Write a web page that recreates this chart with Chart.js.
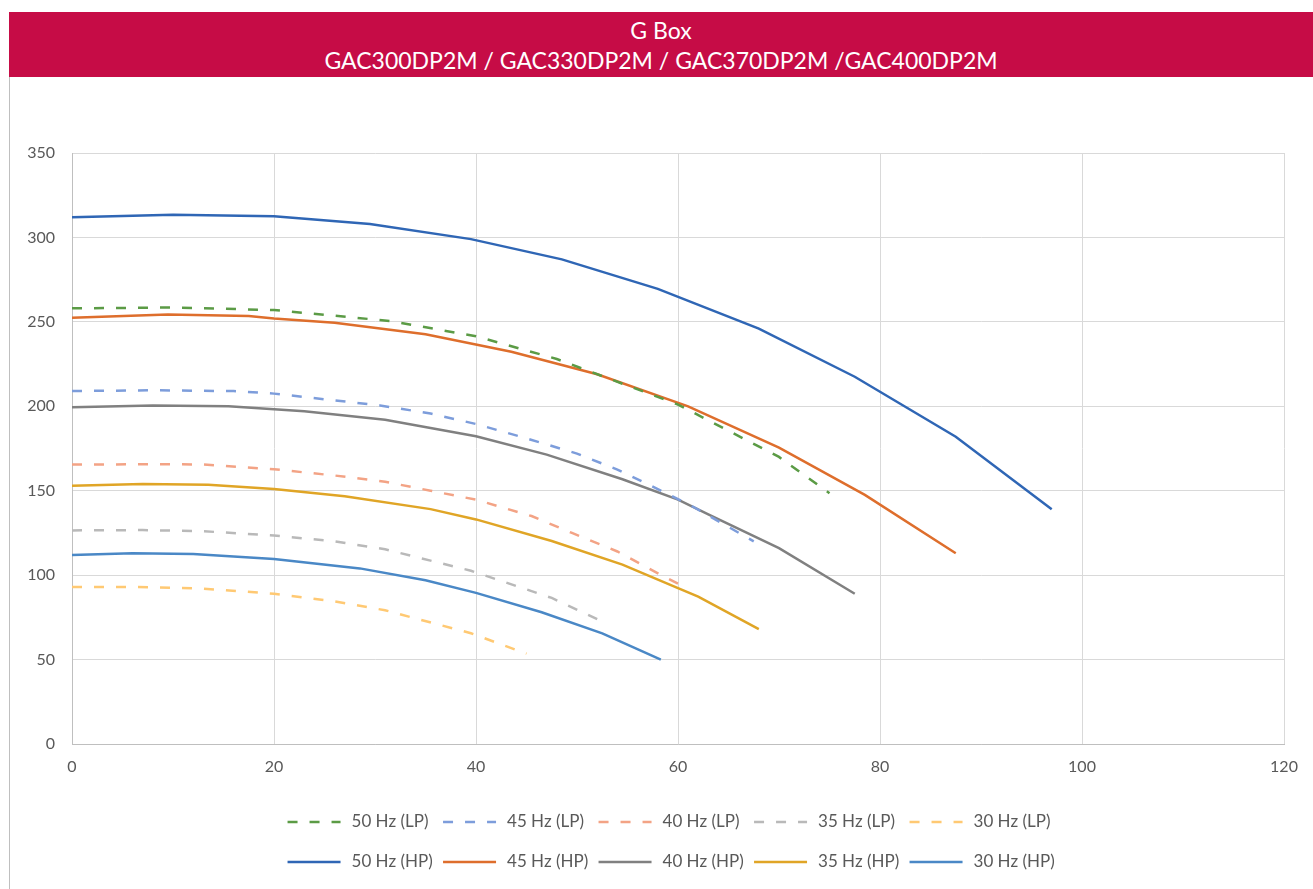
<!DOCTYPE html>
<html>
<head>
<meta charset="utf-8">
<script src="https://cdn.jsdelivr.net/npm/chart.js@4/dist/chart.umd.min.js"></script>
<style>
  body { margin: 0; background: #fff; width: 1313px; height: 889px; overflow: hidden; position: relative; }
  #band { position: absolute; left: 9px; top: 12px; width: 1304px; height: 65px; background: #C60C46;
          color: #fff; font-family: Lato, sans-serif; font-size: 23px; text-align: center; line-height: 30px; padding-top: 3px; box-sizing: border-box; }
  #edge { position: absolute; left: 9px; top: 77px; width: 1px; height: 812px; background: #BFBFBF; }
  #wrap { position: absolute; left: 10px; top: 78px; width: 1303px; height: 811px; }
</style>
</head>
<body>
<div id="band">G Box<br>GAC300DP2M / GAC330DP2M / GAC370DP2M /GAC400DP2M</div>
<div id="edge"></div>
<div id="wrap"><canvas id="c"></canvas></div>
<script>
// flow (x) / pressure (y)
const lp50_x = [0, 10, 20, 31.5, 40, 48, 60, 70, 75];
const lp50_y = [258, 258.5, 257, 250.5, 241.5, 228, 201, 170, 148.5];
const lp45_x = [0, 8, 16, 20, 30.5, 35.5, 40, 45, 50, 54, 58, 61.5, 67.5];
const lp45_y = [209, 209.5, 209, 207.5, 200.5, 195.7, 189.5, 181, 172, 162.5, 151, 140.5, 120];
const lp40_x = [0, 9, 13, 20, 26, 31, 35.5, 40, 45.5, 49.5, 54, 58.5, 60];
const lp40_y = [165.5, 165.7, 165.5, 162.7, 159, 155.3, 150, 144.7, 135, 125, 114, 99.5, 95];
const lp35_x = [0, 7, 13, 20, 26, 31, 39.5, 47.5, 52];
const lp35_y = [126.5, 126.7, 126, 123.5, 120, 115.3, 102.6, 86.5, 74];
const lp30_x = [0, 6.5, 13, 20, 26, 31, 39.5, 45];
const lp30_y = [93, 93, 92, 89, 84.5, 79.2, 65.6, 53.5];

const hp50_x = [0, 10, 20, 29.5, 39.5, 48.5, 58, 68, 77.5, 87.5, 97];
const hp50_y = [312, 313.5, 312.5, 308, 299, 287, 269.5, 246, 217.5, 182, 139];
const hp45_x = [0, 9.5, 17.5, 20, 26, 35, 43.5, 52, 61, 70, 78.5, 87.5];
const hp45_y = [252.5, 254.3, 253.4, 252, 249.5, 242.6, 232.3, 219, 200, 175.5, 147.5, 113];
const hp40_x = [0, 8, 15.5, 23, 31, 35.5, 40, 47, 54.5, 60, 63, 70, 77.5];
const hp40_y = [199.5, 200.5, 200, 197, 192, 187.2, 182.3, 171.4, 156.8, 144.7, 136, 116, 89];
const hp35_x = [0, 7, 13.5, 20, 27, 35.5, 40, 47.5, 54.5, 60, 62, 68];
const hp35_y = [153, 154, 153.5, 151, 146.7, 139.1, 133, 120.2, 106.2, 92.3, 87.3, 68];
const hp30_x = [0, 6, 12, 20, 28.5, 35, 40, 46.5, 52.5, 58.3];
const hp30_y = [112, 113, 112.5, 109.6, 104, 97, 89.5, 78, 65.5, 50];

const names = ['50 Hz (LP)', '45 Hz (LP)', '40 Hz (LP)', '35 Hz (LP)', '30 Hz (LP)',
               '50 Hz (HP)', '45 Hz (HP)', '40 Hz (HP)', '35 Hz (HP)', '30 Hz (HP)'];
const xs = [lp50_x, lp45_x, lp40_x, lp35_x, lp30_x, hp50_x, hp45_x, hp40_x, hp35_x, hp30_x];
const ys = [lp50_y, lp45_y, lp40_y, lp35_y, lp30_y, hp50_y, hp45_y, hp40_y, hp35_y, hp30_y];
const colors = ['#5B9B45', '#7D9DDB', '#F3A385', '#B9B9B9', '#FFC973',
                '#2F66B5', '#DE6E2C', '#808080', '#E0A526', '#4A88C6'];

const xTicks = [0, 20, 40, 60, 80, 100, 120];
const yTicks = [0, 50, 100, 150, 200, 250, 300, 350];

const DASH = [10, 12];

const datasets = names.map((n, i) => ({
  label: n,
  data: xs[i].map((x, j) => ({ x: x, y: ys[i][j] })),
  borderColor: colors[i],
  backgroundColor: colors[i],
  borderWidth: 2.5,
  borderDash: i < 5 ? DASH : [],
  pointRadius: 0,
  tension: 0,
  fill: false
}));

// legend drawn by hand, two rows of five like the original
const legendRows = {
  id: 'legendRows',
  afterDraw(chart) {
    const ctx = chart.ctx;
    const ca = chart.chartArea;
    ctx.save();
    ctx.font = '17px Lato, sans-serif';
    ctx.textBaseline = 'middle';
    ctx.fillStyle = '#595959';
    const step = 155.5, lineW = 53;
    const rowW = step * 4 + lineW + 11 + ctx.measureText(names[4]).width;
    const x0 = (ca.left + ca.right) / 2 - 9 - rowW / 2;
    [0, 1].forEach(r => {
      const yy = ca.bottom + 78 + r * 40;
      for (let k = 0; k < 5; k++) {
        const i = r * 5 + k;
        const lx = x0 + k * step;
        ctx.strokeStyle = colors[i];
        ctx.lineWidth = 2.5;
        ctx.setLineDash(i < 5 ? DASH : []);
        ctx.beginPath();
        ctx.moveTo(lx, yy);
        ctx.lineTo(lx + lineW, yy);
        ctx.stroke();
        ctx.setLineDash([]);
        ctx.fillText(names[i], lx + lineW + 11, yy);
      }
    });
    ctx.restore();
  }
};

new Chart(document.getElementById('c'), {
  type: 'line',
  data: { datasets: datasets },
  options: {
    responsive: true,
    maintainAspectRatio: false,
    animation: false,
    layout: { padding: { top: 75, right: 29, left: 0, bottom: 0 } },
    plugins: { legend: { display: false }, tooltip: { enabled: false } },
    scales: {
      x: {
        type: 'linear', min: 0, max: 120,
        afterBuildTicks: s => { s.ticks = xTicks.map(v => ({ value: v })); },
        afterFit: s => { s.height = 145; },
        grid: { color: '#D9D9D9', lineWidth: 1, drawTicks: false },
        border: { color: '#BFBFBF' },
        ticks: { color: '#595959', font: { family: 'Lato', size: 16 }, padding: 13, maxRotation: 0 }
      },
      y: {
        type: 'linear', min: 0, max: 350,
        afterBuildTicks: s => { s.ticks = yTicks.map(v => ({ value: v })); },
        afterFit: s => { s.width = 62; },
        grid: { color: '#D9D9D9', lineWidth: 1, drawTicks: false },
        border: { color: '#BFBFBF' },
        ticks: { color: '#595959', font: { family: 'Lato', size: 16 }, padding: 17 }
      }
    }
  },
  plugins: [legendRows]
});
</script>
</body>
</html>
